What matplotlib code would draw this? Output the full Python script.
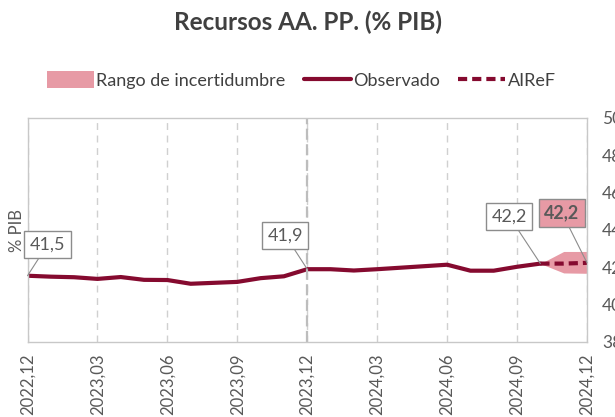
import matplotlib
matplotlib.use('Agg')
import matplotlib.pyplot as plt
import numpy as np

plt.rcParams['font.family'] = ['Lato', 'DejaVu Sans']

# monthly data, 2022.12 .. 2024.12
months = ['2022,12', '2023,01', '2023,02', '2023,03', '2023,04', '2023,05', '2023,06',
          '2023,07', '2023,08', '2023,09', '2023,10', '2023,11', '2023,12',
          '2024,01', '2024,02', '2024,03', '2024,04', '2024,05', '2024,06',
          '2024,07', '2024,08', '2024,09', '2024,10', '2024,11', '2024,12']
observado = [41.55, 41.5, 41.47, 41.38, 41.48, 41.33, 41.32, 41.12, 41.17, 41.22,
             41.42, 41.52, 41.9, 41.9, 41.83, 41.9, 41.98, 42.06, 42.14, 41.82,
             41.82, 42.03, 42.2]
airef = [42.2, 42.2, 42.24]          # 2024.10 .. 2024.12
banda_sup = [42.2, 42.85, 42.85]
banda_inf = [42.2, 41.7, 41.68]

rojo = '#850A2F'
rosa = '#E79AA5'
gris = '#595959'

x = np.arange(len(months))
x_obs = x[:len(observado)]
x_prev = x[len(observado) - 1:]

fig = plt.figure(figsize=(6.15, 4.17), dpi=100)
ax = fig.add_axes([27.5 / 615, 1 - 342 / 417, 559.5 / 615, 224 / 417])

ax.fill_between(x_prev, banda_inf, banda_sup, color=rosa, lw=0, label='Rango de incertidumbre')
ax.plot(x_obs, observado, color=rojo, lw=3, label='Observado', solid_capstyle='round')
ax.plot(x_prev, airef, color=rojo, lw=3, ls=(0, (2.2, 1.2)), label='AIReF')

ax.set_xlim(0, 24)
ax.set_ylim(38, 50)
ax.set_xticks(x[::3])
ax.set_xticklabels(months[::3], rotation=90, fontsize=12, color=gris)
ax.tick_params(axis='x', length=0, pad=8)
ax.yaxis.tick_right()
ax.set_yticks(np.arange(38, 51, 2))
ax.tick_params(axis='y', length=0, pad=11, labelsize=12.5, labelcolor=gris)
ax.set_ylabel('% PIB', fontsize=12, color=gris, labelpad=2)
ax.yaxis.set_label_position('left')

ax.grid(axis='x', color='#D0D0D0', ls=(0, (5, 4)), lw=1)
ax.axvline(12, color='#BDBDBD', ls=(0, (5, 2)), lw=1.6)
for s in ax.spines.values():
    s.set_color('#C8C8C8')
    s.set_linewidth(1)

# etiquetas
box = dict(boxstyle='square,pad=0.3', fc='white', ec='#8C8C8C', lw=1)
arrow = dict(arrowstyle='-', color='#8C8C8C', lw=0.8, shrinkA=0, shrinkB=0)
ax.annotate('41,5', xy=(0, observado[0]), xytext=(20, 31), textcoords='offset pixels',
            ha='center', va='center', fontsize=13, color=gris, bbox=box, arrowprops=arrow)
ax.annotate('41,9', xy=(12, observado[12]), xytext=(-22, 34), textcoords='offset pixels',
            ha='center', va='center', fontsize=13, color=gris, bbox=box, arrowprops=arrow)
ax.annotate('42,2', xy=(22, observado[22]), xytext=(-31, 47), textcoords='offset pixels',
            ha='center', va='center', fontsize=13, color=gris, bbox=box, arrowprops=arrow)
box_rosa = dict(boxstyle='square,pad=0.3', fc=rosa, ec='#8C8C8C', lw=1)
ax.annotate('42,2', xy=(24, airef[-1]), xytext=(-25, 50), textcoords='offset pixels',
            ha='center', va='center', fontsize=13, fontweight='bold', color=gris,
            bbox=box_rosa, arrowprops=arrow, annotation_clip=False)

fig.text(0.5, 1 - 22 / 417, 'Recursos AA. PP. (% PIB)', ha='center', va='center',
         fontsize=17.5, fontweight='bold', color='#404040')

leg = ax.legend(loc='center', bbox_to_anchor=(0.49, 1 - 80 / 417), bbox_transform=fig.transFigure,
                ncol=3, frameon=False, fontsize=13, handlelength=2.6, handletextpad=0.15,
                columnspacing=1.0, handleheight=1.1)
for t in leg.get_texts():
    t.set_color('#404040')

fig.savefig('out.png', dpi=100)
